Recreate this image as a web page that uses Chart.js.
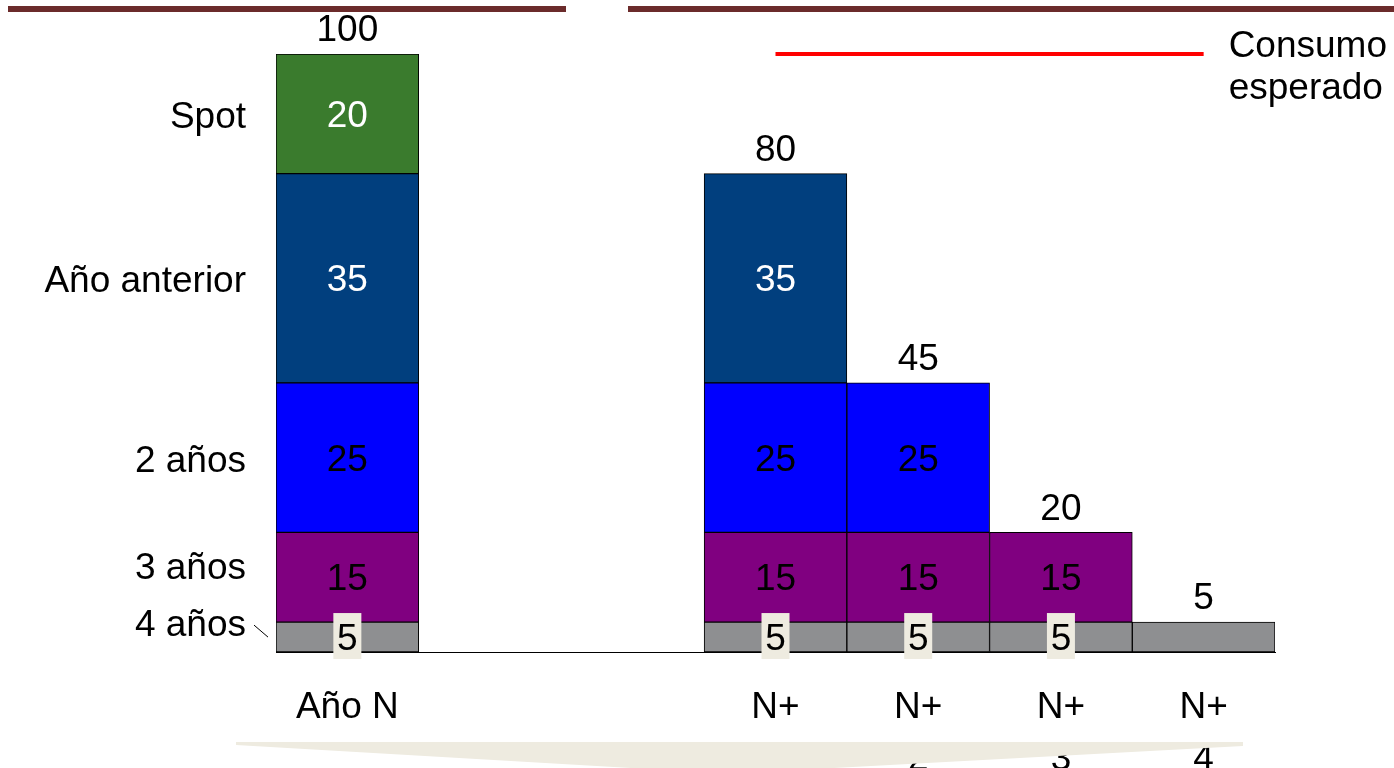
<!DOCTYPE html>
<html>
<head>
<meta charset="utf-8">
<script src="https://cdn.jsdelivr.net/npm/chart.js@4"></script>
<style>
  html, body { margin: 0; padding: 0; background: #fff; overflow: hidden; }
  canvas { display: block; }
</style>
</head>
<body>
<canvas id="chart" width="1394" height="768"></canvas>
<script>
// Categories along the bottom (two empty slots separate the current year from the following years)
const categories = ['Año N', '', '', ['N+', '1'], ['N+', '2'], ['N+', '3'], ['N+', '4']];

// Contracted volume per contract length
const cuatroAnios  = [5,  null, null, 5,  5,  5,  5];
const tresAnios    = [15, null, null, 15, 15, 15, null];
const dosAnios     = [25, null, null, 25, 25, null, null];
const anioAnterior = [35, null, null, 35, null, null, null];
const spot         = [20, null, null, null, null, null, null];

// Expected consumption for the following years
const consumoEsperado = [null, null, null, 100, 100, 100, 100];

// Side labels and the levels where they sit
const sideLabels = ['4 años', '3 años', '2 años', 'Año anterior', 'Spot'];
const sideLabelLevels = [5, 14.5, 32.5, 62.5, 90];

const FONT_FAMILY = "'Liberation Sans', Arial, sans-serif";
const FONT_SIZE = 37;
const BEIGE = '#EEEBE0';

// Page background, header rules
const decorations = {
  id: 'decorations',
  beforeDraw(chart) {
    const ctx = chart.ctx;
    ctx.save();
    ctx.fillStyle = '#ffffff';
    ctx.fillRect(0, 0, chart.width, chart.height);
    ctx.fillStyle = '#6B2B2B';
    ctx.fillRect(8, 6, 558, 6);
    ctx.fillRect(628, 6, 766, 6);
    ctx.restore();
  },
  afterDraw(chart) {
    const ctx = chart.ctx;
    ctx.save();
    // leader from the "4 años" label to its segment
    const yScale = chart.scales.y;
    const left = chart.chartArea.left;
    const yl = yScale.getPixelForValue(sideLabelLevels[0]);
    ctx.strokeStyle = '#000';
    ctx.lineWidth = 1;
    ctx.beginPath();
    ctx.moveTo(left - 22, yl + 3);
    ctx.lineTo(left - 8, yl + 15);
    ctx.stroke();
    // timeline arrow along the bottom
    ctx.fillStyle = BEIGE;
    ctx.beginPath();
    ctx.moveTo(236, 742);
    ctx.lineTo(1243, 742);
    ctx.lineTo(1243, 746);
    ctx.lineTo(834, 768);
    ctx.lineTo(631, 768);
    ctx.lineTo(236, 745);
    ctx.closePath();
    ctx.fill();
    ctx.restore();
  }
};

// Segment values, column totals and the expected-consumption caption
const valueLabels = {
  id: 'valueLabels',
  afterDatasetsDraw(chart) {
    const ctx = chart.ctx;
    ctx.save();
    ctx.font = FONT_SIZE + 'px ' + FONT_FAMILY;
    ctx.textAlign = 'center';
    ctx.textBaseline = 'middle';
    const sets = chart.data.datasets.map((d, i) => ({ d, i })).filter(o => o.d.type !== 'line');
    const n = chart.data.labels.length;
    for (let k = 0; k < n; k++) {
      const present = sets.filter(o => o.d.data[k] != null);
      if (!present.length) continue;
      let total = 0, top = Infinity, x = 0;
      present.forEach(o => {
        const el = chart.getDatasetMeta(o.i).data[k];
        const v = o.d.data[k];
        total += v;
        top = Math.min(top, el.y);
        x = el.x;
        if (present.length > 1) {
          const cy = (el.y + el.base) / 2;
          if (o.d.labelBox) {
            ctx.fillStyle = o.d.labelBox;
            ctx.fillRect(x - 14, cy - 24, 28, 46);
          }
          ctx.fillStyle = o.d.labelColor;
          ctx.fillText(String(v), x, cy + 3);
        }
      });
      ctx.fillStyle = '#000';
      ctx.fillText(String(total), x, top - 23);
    }
    // caption at the end of the expected-consumption line
    chart.data.datasets.forEach((d, i) => {
      if (d.type !== 'line') return;
      const pts = chart.getDatasetMeta(i).data.filter((p, j) => d.data[j] != null);
      const last = pts[pts.length - 1];
      ctx.textAlign = 'left';
      ctx.textBaseline = 'alphabetic';
      ctx.fillStyle = '#000';
      d.label.split(' ').forEach((w, j) => {
        ctx.fillText(w, last.x + 25, last.y + 3 + j * 42);
      });
    });
    ctx.restore();
  }
};

const barStyle = { borderColor: '#000', borderWidth: 1, borderSkipped: false, categoryPercentage: 1, barPercentage: 1 };

new Chart(document.getElementById('chart'), {
  type: 'bar',
  data: {
    labels: categories,
    datasets: [
      { label: '4 años', data: cuatroAnios, backgroundColor: '#8E8F91', labelColor: '#000', labelBox: BEIGE, ...barStyle },
      { label: '3 años', data: tresAnios, backgroundColor: '#800080', labelColor: '#000', ...barStyle },
      { label: '2 años', data: dosAnios, backgroundColor: '#0000FF', labelColor: '#000', ...barStyle },
      { label: 'Año anterior', data: anioAnterior, backgroundColor: '#013F7E', labelColor: '#fff', ...barStyle },
      { label: 'Spot', data: spot, backgroundColor: '#3A7B2D', labelColor: '#fff', ...barStyle },
      { type: 'line', label: 'Consumo esperado', data: consumoEsperado, stack: 'consumo', borderColor: '#FF0000',
        borderWidth: 4, pointRadius: 0, fill: false, clip: false, spanGaps: false }
    ]
  },
  options: {
    responsive: false,
    devicePixelRatio: 1,
    animation: false,
    layout: { padding: { top: 54, right: 119, bottom: 0, left: 0 } },
    plugins: { legend: { display: false }, tooltip: { enabled: false } },
    scales: {
      x: {
        stacked: true,
        offset: true,
        border: { display: true, color: '#000', width: 1 },
        grid: { display: false, drawTicks: false },
        ticks: {
          padding: 30, color: '#000', maxRotation: 0, autoSkip: false,
          font: { family: FONT_FAMILY, size: FONT_SIZE, lineHeight: 1.4 }
        },
        afterFit: s => { s.height = 116; }
      },
      y: {
        stacked: true,
        min: 0,
        max: 100,
        border: { display: false },
        grid: { display: false, drawTicks: false },
        afterBuildTicks: s => { s.ticks = sideLabelLevels.map(v => ({ value: v })); },
        afterFit: s => { s.width = 276; },
        ticks: {
          padding: 30, color: '#000', autoSkip: false, labelOffset: 4,
          font: { family: FONT_FAMILY, size: FONT_SIZE },
          callback: (v, i) => sideLabels[i]
        }
      }
    }
  },
  plugins: [decorations, valueLabels]
});
</script>
</body>
</html>
